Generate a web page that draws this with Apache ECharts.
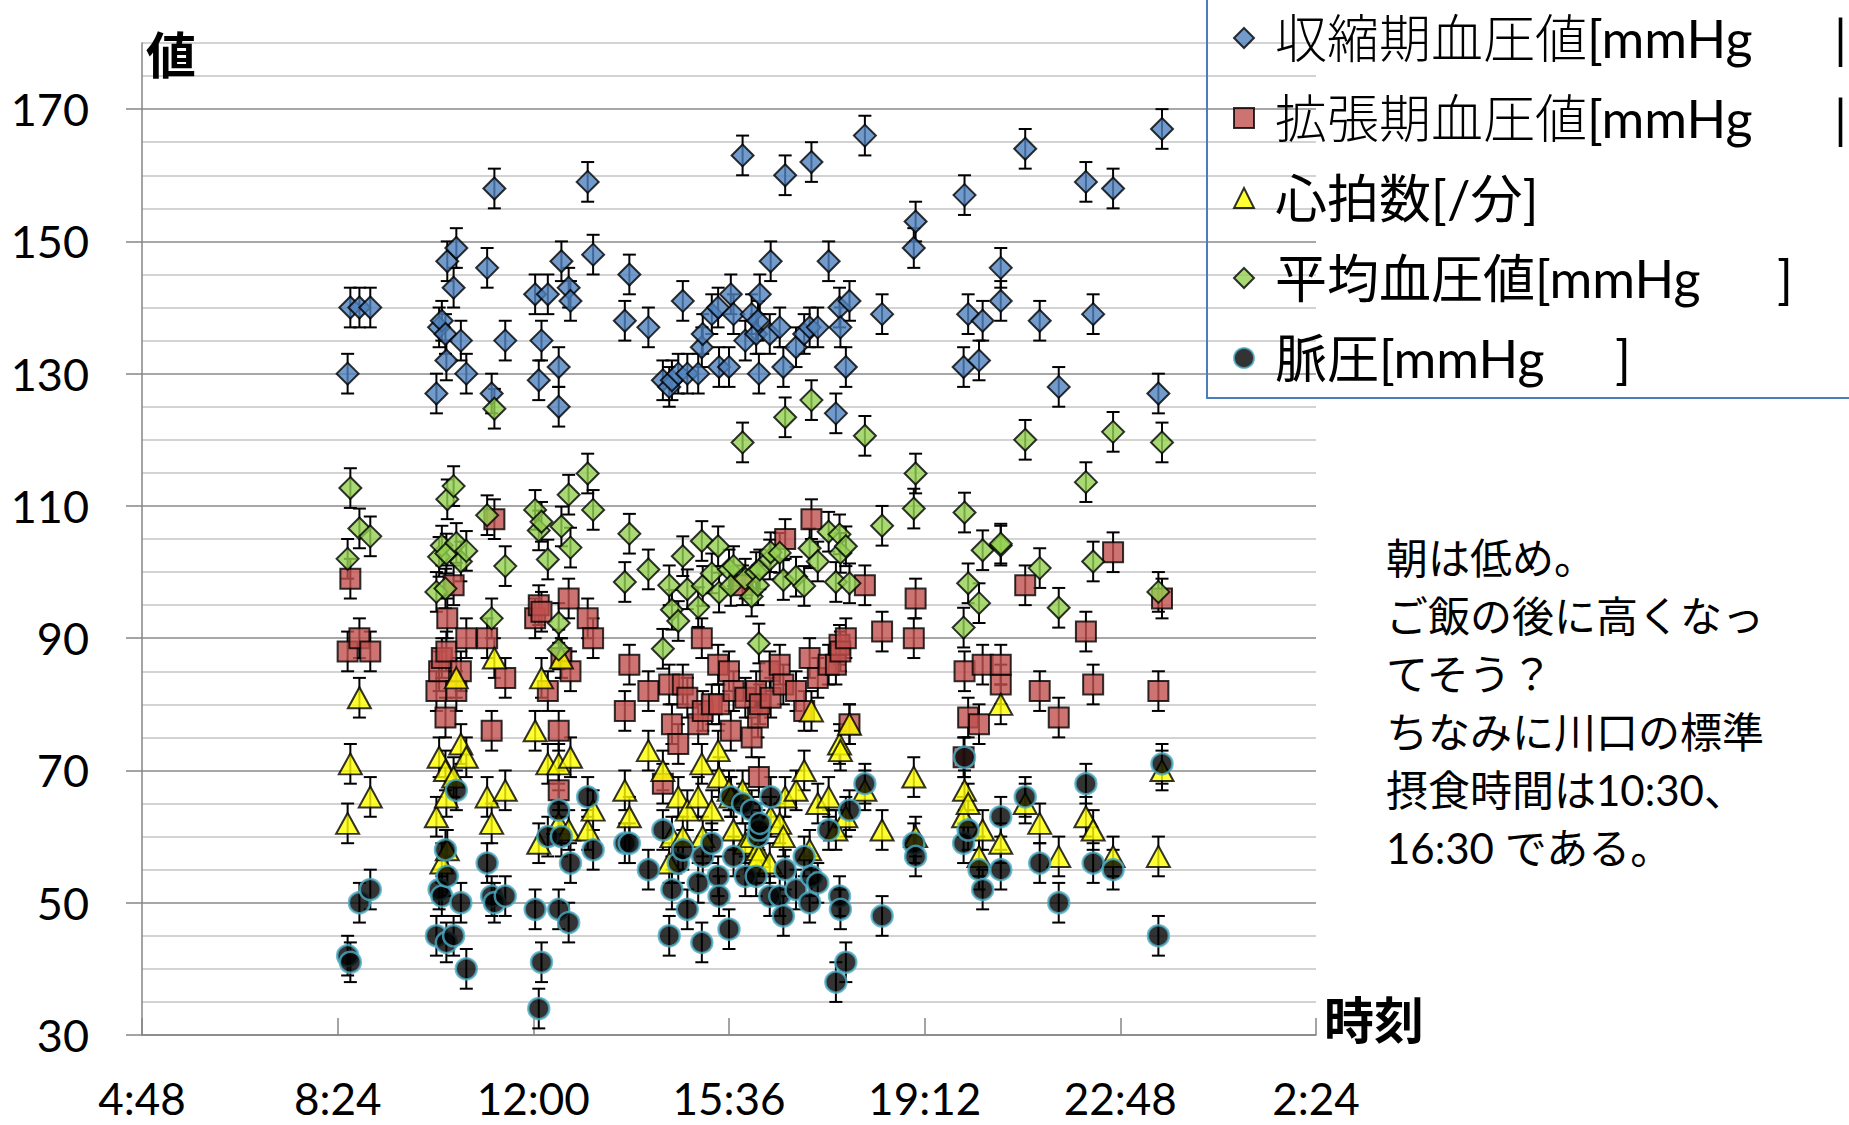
<!DOCTYPE html>
<html>
<head>
<meta charset="utf-8">
<title>血圧・心拍数の日内変動</title>
<script src="https://cdn.jsdelivr.net/npm/echarts@6/dist/echarts.min.js"></script>
<style>
  html, body { margin: 0; padding: 0; background: #fff; }
  #chart { width: 1849px; height: 1125px; }
</style>
</head>
<body>
<div id="chart"></div>
<script>
// ---- measurements (one entry per reading) ----
const TIMES = [
  '8:35','8:38','8:48','9:00','10:13','10:16','10:19','10:23','10:24','10:25',
  '10:32','10:35','10:40','10:46','11:09','11:14','11:17','11:29','12:02','12:06',
  '12:09','12:16','12:28','12:28','12:31','12:39','12:41','13:00','13:06','13:41',
  '13:46','14:07','14:23','14:30','14:33','14:40','14:45','14:50','15:02','15:06',
  '15:07','15:17','15:24','15:25','15:36','15:38','15:41','15:51','15:54','16:01',
  '16:06','16:08','16:09','16:10','16:21','16:22','16:32','16:36','16:38','16:50',
  '16:59','17:05','17:07','17:14','17:26','17:34','17:38','17:39','17:45','17:49',
  '18:06','18:25','19:00','19:02','19:55','19:56','20:00','20:12','20:16','20:36',
  '20:36','21:03','21:19','21:40','22:10','22:18','22:40','23:30','23:34'
];
const SYSTOLIC = [
  130,140,140,140,127,137,138,136,132,147,
  143,149,135,130,146,127,158,135,142,129,
  135,142,125,131,147,143,141,159,148,138,
  145,137,129,128,129,130,141,130,130,134,
  136,139,140,131,131,142,139,163,135,139,
  136,138,130,142,136,147,137,131,160,134,
  136,137,162,137,147,124,140,137,131,141,
  166,139,149,153,131,157,139,132,138,146,
  141,164,138,128,159,139,158,127,167
];
const DIASTOLIC = [
  88,99,90,88,82,85,87,78,88,93,
  98,82,85,90,90,76,108,84,93,95,
  94,82,76,67,87,96,85,93,90,79,
  86,82,68,83,77,74,83,81,77,90,
  79,80,86,80,85,76,82,98,81,75,
  82,78,69,80,85,81,86,83,105,82,
  79,87,108,84,86,86,89,88,90,77,
  98,91,90,96,72,85,78,77,86,83,
  86,98,82,78,91,83,103,82,96
];
const HEART_RATE = [
  62,71,81,66,63,72,56,70,66,58,
  69,84,74,72,66,62,87,67,76,59,
  84,71,62,71,87,61,72,61,64,67,
  63,73,70,56,60,66,60,64,66,71,
  60,64,73,69,67,66,61,67,59,60,
  56,58,57,62,56,63,62,60,66,67,
  70,58,79,65,66,61,74,73,63,77,
  67,61,69,60,63,67,65,57,61,80,
  59,65,62,57,63,61,57,57,70
];
const MEAN_BP = [
  102,112.7,106.6,105.4,97,102.3,104,97.5,102.8,111,
  113,104.4,101.6,103.2,108.6,93,124.7,100.9,109.4,106.3,
  107.6,101.9,92.3,88.3,106.9,111.7,103.7,114.9,109.4,98.5,
  105.8,100.4,88.4,98,94.3,92.6,102.4,97.4,94.7,104.7,
  97.9,99.8,103.9,96.9,100.4,97.9,100.9,119.6,99,96.3,
  100,98,89.2,100.4,101.9,103,102.9,98.8,123.4,99.3,
  97.9,103.6,126,101.6,106.1,98.5,105.7,102.9,103.9,98.3,
  120.6,107,109.6,114.9,91.6,109,98.3,95.3,103.3,104,
  104.3,120,100.6,94.6,113.6,101.6,121.2,97,119.6
];
const PULSE_PRESSURE = [
  42,41,50,52,45,52,51,58,44,54,
  45,67,50,40,56,51,50,51,49,34,
  41,60,49,64,60,47,56,66,58,59,
  59,55,61,45,52,56,58,49,53,44,
  57,59,54,51,46,66,57,65,54,64,
  54,60,61,62,51,66,51,48,55,52,
  57,50,54,53,61,38,51,49,41,64,
  68,48,59,57,59,72,61,55,52,63,
  55,66,56,50,68,56,55,45,71
];
const ERROR_AMOUNT = 3;   // fixed error-bar half length

const SERIES_NAMES = ['収縮期血圧値[mmHg', '拡張期血圧値[mmHg', '心拍数[/分]', '平均血圧値[mmHg', '脈圧[mmHg'];
const LEGEND_TAILS = ['|', '|', '', ']', ']'];

const X_TICK_LABELS = ['4:48', '8:24', '12:00', '15:36', '19:12', '22:48', '2:24'];
const Y_TICK_LABELS = [30, 50, 70, 90, 110, 130, 150, 170];

const NOTE_LINES = ['朝は低め。', 'ご飯の後に高くなっ', 'てそう？', 'ちなみに川口の標準', '摂食時間は10:30、', '16:30 である。'];

// ---- helpers ----
const FONT = 'Lato, "Noto Sans CJK JP", sans-serif';
const LIGHT_FONT = 'Lato, "Noto Sans CJK JP Light", "Noto Sans CJK JP DemiLight", "Noto Sans CJK JP", sans-serif';
const CJK_FONT = '"Noto Sans CJK JP", sans-serif';

function toHours(t) {
  const [h, m] = t.split(':').map(Number);
  return h + m / 60;
}
const TIME_VALUES = TIMES.map(toHours);

// tick positions in hours, continuing past midnight
const X_TICK_VALUES = [];
(function () {
  let offset = 0, prev = -Infinity;
  X_TICK_LABELS.forEach(function (lbl) {
    let v = toHours(lbl) + offset;
    if (v < prev) { offset += 24; v += 24; }
    X_TICK_VALUES.push(Math.round(v * 1000) / 1000);
    prev = v;
  });
})();

function xLabel(v) {
  const i = X_TICK_VALUES.findIndex(t => Math.abs(t - v) < 1e-3);
  return i >= 0 ? X_TICK_LABELS[i] : '';
}

function pairs(values) {
  return TIME_VALUES.map((t, i) => [t, values[i]]);
}

function errorBars(values) {
  return {
    type: 'custom',
    silent: true,
    data: pairs(values),
    encode: { x: 0, y: 1 },
    renderItem: function (params, api) {
      const x = api.value(0), y = api.value(1);
      const hi = api.coord([x, y + ERROR_AMOUNT]);
      const lo = api.coord([x, y - ERROR_AMOUNT]);
      const cap = 6.5;
      const style = { stroke: '#000', lineWidth: 2, fill: null };
      return {
        type: 'group',
        children: [
          { type: 'line', shape: { x1: hi[0], y1: hi[1], x2: lo[0], y2: lo[1] }, style: style },
          { type: 'line', shape: { x1: hi[0] - cap, y1: hi[1], x2: hi[0] + cap, y2: hi[1] }, style: style },
          { type: 'line', shape: { x1: lo[0] - cap, y1: lo[1], x2: lo[0] + cap, y2: lo[1] }, style: style }
        ]
      };
    }
  };
}

function markers(name, values, symbol, size, itemStyle) {
  return {
    type: 'scatter',
    name: name,
    data: pairs(values),
    symbol: symbol,
    symbolSize: size,
    itemStyle: itemStyle,
    emphasis: { disabled: true }
  };
}

// ---- legend text: light CJK for the first two rows, tail glyph placed at a fixed x ----
const LEGEND_TEXT_X = 1274;
const LEGEND_TAIL_X = [1833, 1833, null, 1776, 1614];
const measureCtx = document.createElement('canvas').getContext('2d');
function textWidth(str, weight, family) {
  measureCtx.font = weight + ' 52px ' + family;
  return measureCtx.measureText(str).width;
}
const legendRich = {
  s: { width: 16, fontSize: 52, lineHeight: 60 },
  cL: { fontSize: 52, lineHeight: 60, fontWeight: 300, fontFamily: LIGHT_FONT, color: '#000' },
  cN: { fontSize: 52, lineHeight: 60, fontWeight: 'normal', fontFamily: FONT, color: '#000' },
  b: { fontSize: 52, lineHeight: 60, fontWeight: 'normal', fontFamily: FONT, color: '#000' },
  t: { fontSize: 52, lineHeight: 60, fontWeight: 'normal', fontFamily: FONT, color: '#000' }
};
const legendParts = SERIES_NAMES.map(function (name, i) {
  const k = name.indexOf('[');
  const cjk = name.slice(0, k), rest = name.slice(k);
  const light = i < 2;
  if (LEGEND_TAIL_X[i] != null) {
    const gap = LEGEND_TAIL_X[i] - LEGEND_TEXT_X
      - textWidth(cjk, light ? 300 : 'normal', light ? LIGHT_FONT : FONT)
      - textWidth(rest, 'normal', FONT);
    legendRich['g' + i] = { width: Math.max(0, gap), fontSize: 52, lineHeight: 60 };
  }
  return { cjk: cjk, rest: rest, light: light, tail: LEGEND_TAILS[i] };
});

function legendFormatter(name) {
  const i = SERIES_NAMES.indexOf(name);
  const p = legendParts[i];
  let s = '{s| }{' + (p.light ? 'cL' : 'cN') + '|' + p.cjk + '}{b|' + p.rest + '}';
  if (p.tail) s += '{g' + i + '| }{t|' + p.tail + '}';
  return s;
}

// ---- chart ----
const chart = echarts.init(document.getElementById('chart'), null, { renderer: 'svg' });

chart.setOption({
  animation: false,
  backgroundColor: '#fff',
  textStyle: { fontFamily: FONT },
  grid: { left: 142, top: 43, width: 1174, height: 992, containLabel: false },
  xAxis: {
    type: 'value',
    min: X_TICK_VALUES[0],
    max: X_TICK_VALUES[X_TICK_VALUES.length - 1],
    name: '時刻',
    nameLocation: 'end',
    nameGap: 8,
    nameTextStyle: {
      fontFamily: CJK_FONT, fontSize: 50, fontWeight: 'bold', color: '#000',
      align: 'left', verticalAlign: 'bottom', lineHeight: 36
    },
    axisLine: { lineStyle: { color: '#868686', width: 1.5 } },
    axisTick: { inside: true, length: 17, customValues: X_TICK_VALUES, lineStyle: { color: '#868686', width: 1.5 } },
    axisLabel: {
      customValues: X_TICK_VALUES, formatter: xLabel,
      fontSize: 44, lineHeight: 36, color: '#000', fontFamily: FONT, margin: 45
    },
    splitLine: { show: false }
  },
  yAxis: [
    {
      type: 'value', min: 30, max: 180, interval: 5,
      axisLine: { show: true, lineStyle: { color: '#868686', width: 1.5 } },
      axisTick: { show: false },
      axisLabel: { show: false },
      splitLine: { lineStyle: { color: ['#8a8a8a', '#c4c4c4', '#c4c4c4', '#c4c4c4'], width: 1.5 } }
    },
    {
      type: 'value', min: 30, max: 180, interval: 10, position: 'left',
      name: '値',
      nameLocation: 'end',
      nameGap: -9,
      nameTextStyle: {
        fontFamily: CJK_FONT, fontSize: 50, fontWeight: 'bold', color: '#000',
        align: 'left', verticalAlign: 'middle', padding: [0, 0, 0, 4]
      },
      axisLine: { show: false },
      axisTick: { show: true, length: 16, customValues: Y_TICK_LABELS, lineStyle: { color: '#868686', width: 1.5 } },
      axisLabel: {
        customValues: Y_TICK_LABELS,
        formatter: v => (Y_TICK_LABELS.indexOf(v) >= 0 ? String(v) : ''),
        fontSize: 45, color: '#000', fontFamily: FONT, margin: 53
      },
      splitLine: { show: false }
    }
  ],
  legend: {
    data: SERIES_NAMES,
    orient: 'vertical',
    left: 1233,
    top: 8,
    padding: 0,
    itemWidth: 20,
    itemHeight: 20,
    itemGap: 20,
    selectedMode: false,
    formatter: legendFormatter,
    textStyle: { fontSize: 52, lineHeight: 60, color: '#000', rich: legendRich }
  },
  graphic: [
    {
      type: 'rect', silent: true, z: 100,
      shape: { x: 1207, y: -20, width: 700, height: 418 },
      style: { fill: 'none', stroke: '#4A7EBB', lineWidth: 2 }
    },
    {
      type: 'text', silent: true, x: 1386, y: 529,
      style: {
        text: NOTE_LINES.join('\n'),
        fontSize: 42, lineHeight: 58, fontFamily: FONT, fill: '#000'
      }
    }
  ],
  series: [
    errorBars(SYSTOLIC),
    markers(SERIES_NAMES[0], SYSTOLIC, 'diamond', 22, { color: '#4F81BD', borderColor: '#000', borderWidth: 2 }),
    errorBars(DIASTOLIC),
    markers(SERIES_NAMES[1], DIASTOLIC, 'rect', 20, { color: '#C0504D', borderColor: '#000', borderWidth: 2 }),
    errorBars(HEART_RATE),
    markers(SERIES_NAMES[2], HEART_RATE, 'triangle', [23, 21], { color: '#FFFF00', borderColor: '#000', borderWidth: 2 }),
    errorBars(MEAN_BP),
    markers(SERIES_NAMES[3], MEAN_BP, 'diamond', 22, { color: '#92D050', borderColor: '#000', borderWidth: 2 }),
    errorBars(PULSE_PRESSURE),
    markers(SERIES_NAMES[4], PULSE_PRESSURE, 'circle', 21, { color: '#000', borderColor: '#4BACC6', borderWidth: 2.5 })
  ]
});
</script>
</body>
</html>
